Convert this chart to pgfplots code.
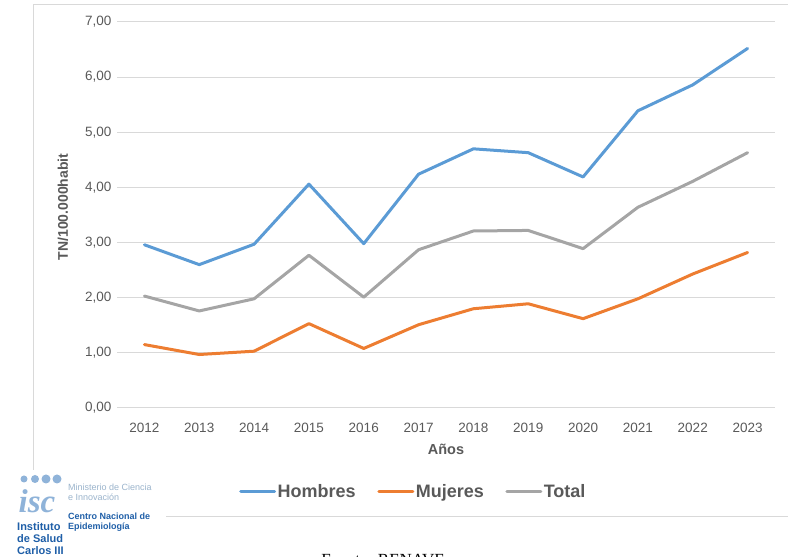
\documentclass[border=0pt]{standalone}
\usepackage{pgfplots}
\pgfplotsset{compat=1.18}
\usepackage{fontspec}
\setmainfont{Liberation Sans}
\newfontfamily\seriffont{Liberation Serif}
\definecolor{hom}{HTML}{5B9BD5}
\definecolor{muj}{HTML}{ED7D31}
\definecolor{tot}{HTML}{A5A5A5}
\definecolor{tick}{HTML}{595959}
\definecolor{logoblue}{HTML}{8FB3D9}
\definecolor{logodark}{HTML}{1F5FA8}
\definecolor{logogray}{HTML}{9BB4CC}
\pgfplotstableread{
x hom muj tot
0 2.96 1.15 2.03
1 2.60 0.97 1.76
2 2.97 1.03 1.98
3 4.06 1.53 2.77
4 2.98 1.08 2.01
5 4.24 1.51 2.87
6 4.70 1.80 3.21
7 4.63 1.89 3.22
8 4.19 1.62 2.89
9 5.39 1.98 3.64
10 5.86 2.43 4.11
11 6.52 2.82 4.63
}\datatable
\begin{document}
\begin{tikzpicture}[x=1pt,y=1pt]
\useasboundingbox (0,0) rectangle (788,557);
\clip (0,0) rectangle (788,557);
\draw[black!15, line width=1pt] (33,40) rectangle (800,552);
\begin{axis}[
  at={(117pt,149pt)}, anchor=south west, scale only axis,
  width=658pt, height=386pt,
  xmin=-0.5, xmax=11.5, ymin=0, ymax=7,
  xtick={0,...,11},
  xticklabels={2012,2013,2014,2015,2016,2017,2018,2019,2020,2021,2022,2023},
  ytick={0,...,7},
  yticklabel={\pgfmathprintnumber[fixed,fixed zerofill,precision=2,use comma]{\tick}},
  /pgf/number format/assume math mode=true,
  axis line style={draw=none},
  major tick length=0pt,
  ymajorgrids, grid style={black!15, line width=1pt},
  tick label style={font=\fontsize{13.5}{15}\selectfont, text=tick},
  yticklabel style={xshift=-2pt},
  xticklabel style={yshift=-12pt},
  xlabel={\textbf{Años}},
  xlabel style={font=\fontsize{14.5}{16}\selectfont, text=tick, at={(axis description cs:0.5,0)}, anchor=center, yshift=-41pt},
  ylabel={\textbf{TN/100.000habit}},
  ylabel style={font=\fontsize{14}{16}\selectfont, text=tick, at={(axis description cs:0,0.5)}, anchor=center, yshift=54pt, xshift=8pt},
  legend columns=3,
  legend style={draw=none, fill=none, at={(0.45,-0.2176)}, anchor=center,
    font=\fontsize{18}{20}\selectfont\bfseries, text=tick,
    /tikz/every even column/.append style={column sep=20pt},
    nodes={inner sep=1.5pt}},
  legend image code/.code={\draw[#1, line width=3pt] (0pt,0pt) -- (34pt,0pt);},
  every axis plot/.append style={line width=3pt, line join=round, line cap=round},
]
\addplot[hom] table[x=x,y=hom] {\datatable};
\addlegendentry{Hombres}
\addplot[muj] table[x=x,y=muj] {\datatable};
\addlegendentry{Mujeres}
\addplot[tot] table[x=x,y=tot] {\datatable};
\addlegendentry{Total}
\end{axis}
% logo area
\fill[white] (0,0) rectangle (166,87);
\draw[black!15, line width=1pt] (166,40) -- (800,40);
\node[anchor=base, text=logoblue, font=\seriffont\itshape\bfseries\fontsize{33}{33}\selectfont, inner sep=0pt] at (37,44) {isc};
\foreach \px/\r in {24/3.5,35/4,46/4.5,57/4.5} \fill[logoblue] (\px,78) circle (\r);
\node[anchor=base west, text=logogray, font=\fontsize{9}{10}\selectfont, inner sep=0pt] at (68,66) {Ministerio de Ciencia};
\node[anchor=base west, text=logogray, font=\fontsize{9}{10}\selectfont, inner sep=0pt] at (68,56) {e Innovación};
\node[anchor=base west, text=logodark, font=\fontsize{9}{10}\selectfont\bfseries, inner sep=0pt] at (68,37) {Centro Nacional de};
\node[anchor=base west, text=logodark, font=\fontsize{9}{10}\selectfont\bfseries, inner sep=0pt] at (68,27) {Epidemiología};
\node[anchor=base west, text=logodark, font=\fontsize{11}{12}\selectfont\bfseries, inner sep=0pt] at (17,26) {Instituto};
\node[anchor=base west, text=logodark, font=\fontsize{11}{12}\selectfont\bfseries, inner sep=0pt] at (17,14) {de Salud};
\node[anchor=base west, text=logodark, font=\fontsize{11}{12}\selectfont\bfseries, inner sep=0pt] at (17,2) {Carlos III};
\node[anchor=base, font=\seriffont\fontsize{17}{18}\selectfont, inner sep=0pt] at (383,-9) {Fuente: RENAVE};
\end{tikzpicture}
\end{document}
